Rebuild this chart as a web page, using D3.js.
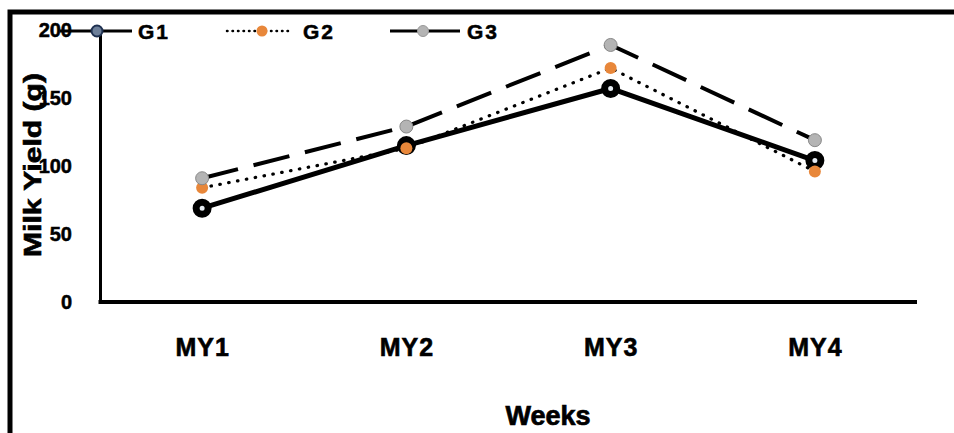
<!DOCTYPE html>
<html><head><meta charset="utf-8">
<script src="https://cdn.jsdelivr.net/npm/d3@7"></script>
<style>
html,body{margin:0;padding:0;background:#fff;}
svg{display:block;font-family:Arial,"Liberation Sans",sans-serif;}
</style></head>
<body><svg id="c" width="954" height="433"></svg>
<script>
const categories = ["MY1","MY2","MY3","MY4"];
const seriesNames = ["G1","G2","G3"];
const g1Values = [69, 115, 157, 104];
const g2Values = [84, 113, 172, 96];
const g3Values = [91, 129, 189, 119];
const yTicks = [0, 50, 100, 150, 200];
const yTitle = "Milk Yield (g)";
const xTitle = "Weeks";

const svg = d3.select("#c");
const x = d3.scalePoint().domain(categories).range([100, 917]).padding(0.5);
const y = d3.scaleLinear().domain([0, 200]).range([302, 30]);

// outer frame
svg.append("path").attr("d","M10,440 L10,12 L960,12").attr("fill","none")
  .attr("stroke","#000").attr("stroke-width",5);

// y axis
const ya = svg.append("g").attr("transform","translate(100,0)")
  .call(d3.axisLeft(y).tickValues(yTicks).tickSize(0).tickPadding(28));
ya.select(".domain").attr("stroke","#000").attr("stroke-width",3);
ya.selectAll("text").attr("font-size",20).attr("font-weight","bold").attr("fill","#000")
  .attr("stroke","#000").attr("stroke-width",0.5)
  .attr("font-family","Arial,'Liberation Sans',sans-serif");

// x axis
const xa = svg.append("g").attr("transform","translate(0,302)")
  .call(d3.axisBottom(x).tickSize(0).tickPadding(36));
xa.select(".domain").attr("stroke","#000").attr("stroke-width",4)
  .attr("d","M98.5,0H917");
xa.selectAll("text").attr("font-size",25).attr("font-weight","bold").attr("fill","#000")
  .attr("stroke","#000").attr("stroke-width",0.6)
  .attr("letter-spacing","1px").attr("font-family","Arial,'Liberation Sans',sans-serif");

// titles
svg.append("text").attr("x",548).attr("y",425).attr("text-anchor","middle")
  .attr("font-size",27).attr("font-weight","bold").attr("stroke","#000").attr("stroke-width",0.7)
  .text(xTitle);
svg.append("text").attr("transform","translate(41,165) rotate(-90)").attr("text-anchor","middle")
  .attr("font-size",23).attr("font-weight","bold").attr("stroke","#000").attr("stroke-width",0.6)
  .attr("textLength",184).attr("lengthAdjust","spacingAndGlyphs").text(yTitle);

const series = [
  {name:seriesNames[0], values:g1Values, width:5, dash:null, cap:"butt", fill:"#e6ecf2", stroke:"#000", r:6, sw:7},
  {name:seriesNames[1], values:g2Values, width:3.2, dash:"0.5,8.5", cap:"round", fill:"#e8873a", stroke:"#e8873a", r:6, sw:0},
  {name:seriesNames[2], values:g3Values, width:4, dash:"37,16", cap:"butt", fill:"#b4b4b4", stroke:"#888", r:6.5, sw:1}
];

const line = d3.line().x((d,i)=>x(categories[i])).y(d=>y(d));
series.forEach(s=>{
  const g = svg.append("g");
  g.append("path").datum(s.values).attr("d",line).attr("fill","none")
    .attr("stroke","#000").attr("stroke-width",s.width)
    .attr("stroke-dasharray",s.dash).attr("stroke-linecap",s.cap)
    .attr("stroke-linejoin","round");
  g.selectAll("circle").data(s.values).join("circle")
    .attr("cx",(d,i)=>x(categories[i])).attr("cy",d=>y(d)).attr("r",s.r)
    .attr("fill",s.fill).attr("stroke",s.stroke).attr("stroke-width",s.sw);
});

// legend
const leg = [
  {x0:60,x1:132,mx:97,tx:138,dash:null,cap:"butt",w:3,fill:"#6d7f99",stroke:"#1e3050",sw:2},
  {x0:227,x1:292,mx:262,tx:303,dash:"0.5,5",cap:"round",w:2.5,fill:"#e8873a",stroke:"#e8873a",sw:0},
  {x0:390,x1:460,mx:423,tx:467,dash:null,cap:"butt",w:3,fill:"#b4b4b4",stroke:"#999",sw:1}
];
series.forEach((s,i)=>{
  const L = leg[i], ly = 31;
  svg.append("line").attr("x1",L.x0).attr("x2",L.x1).attr("y1",ly).attr("y2",ly)
    .attr("stroke","#000").attr("stroke-width",L.w).attr("stroke-dasharray",L.dash)
    .attr("stroke-linecap",L.cap);
  svg.append("circle").attr("cx",L.mx).attr("cy",ly).attr("r",5.5)
    .attr("fill",L.fill).attr("stroke",L.stroke).attr("stroke-width",L.sw);
  svg.append("text").attr("x",L.tx).attr("y",ly+8).attr("font-size",21).attr("font-weight","bold")
    .attr("stroke","#000").attr("stroke-width",0.5)
    .attr("letter-spacing","2px").text(s.name);
});
</script></body></html>
